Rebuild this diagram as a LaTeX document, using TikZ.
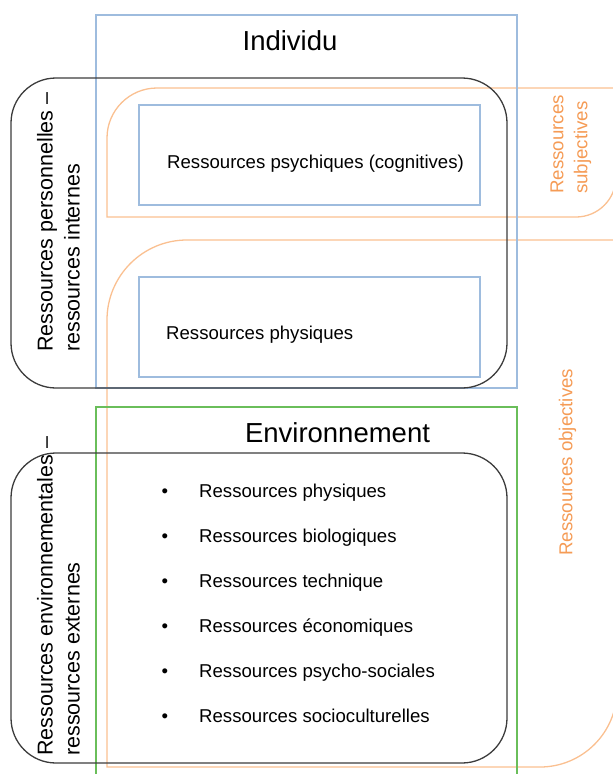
\documentclass[tikz,border=0pt]{standalone}
\usepackage{fontspec}
\setmainfont{Liberation Sans}
\definecolor{boxblue}{RGB}{158,188,222}
\definecolor{boxgreen}{RGB}{106,190,90}
\definecolor{boxgray}{RGB}{60,60,60}
\definecolor{resorange}{RGB}{250,192,145}
\definecolor{textorange}{RGB}{245,155,85}

\begin{document}
\begin{tikzpicture}[x=1pt, y=-1pt,
  bluebox/.style={draw=boxblue, line width=1.3pt},
  greenbox/.style={draw=boxgreen, line width=1.3pt},
  grouping/.style={draw=boxgray, line width=1.3pt, rounded corners=45pt},
  resline/.style={draw=resorange, line width=1.3pt},
  title/.style={font=\fontsize{27.5}{33}\selectfont, anchor=base, inner sep=0pt},
  item/.style={font=\fontsize{18.6}{22}\selectfont, anchor=base west, inner sep=0pt},
  sidelabel/.style={font=\fontsize{21.5}{27}\selectfont, rotate=90, anchor=west, align=left, inner sep=0pt},
  reslabel/.style={font=\fontsize{18.7}{24}\selectfont, text=textorange, rotate=90, anchor=west, align=left, inner sep=0pt}]

  \useasboundingbox (0,0) rectangle (613,774);
  \begin{scope}
    \clip (0,0) rectangle (613,774);
    % subjective and objective resources
    \draw[resline] (107,217) -- (107,138) .. controls (107,110.4) and (129.4,88) .. (157,88)
      -- (616,88) -- (616,177) .. controls (616,199.1) and (598.1,217) .. (576,217) -- cycle;
    \draw[resline] (107,767) -- (107,320) .. controls (107,275.8) and (142.8,240) .. (187,240)
      -- (617,240) -- (617,690) .. controls (617,732.5) and (582.5,767) .. (540,767) -- cycle;
    % individual and environment
    \draw[bluebox] (96,15) rectangle (517,388);
    \draw[greenbox] (96,407) rectangle (517,790);
    \draw[bluebox] (139,105) rectangle (480,205);
    \draw[bluebox] (139,277) rectangle (480,377);
    % internal and external resources
    \draw[grouping] (11,78) rectangle (507,388);
    \draw[grouping] (11,453) rectangle (507,763);
  \end{scope}

  \node[title] (individu) at (290,50) {Individu};
  \node[title] (environnement) at (337.5,442) {Environnement};

  \node[item] (psychiques) at (167,168) {Ressources psychiques (cognitives)};
  \node[item] (physiques) at (166,339) {Ressources physiques};

  \foreach \res [count=\i] in {physiques, biologiques, technique, économiques, psycho-sociales, socioculturelles} {
    \node[item, anchor=base] (bullet\i) at (165,452+45*\i) {\textbullet};
    \node[item] (env\i) at (199,452+45*\i) {Ressources \res};
  }

  \node[sidelabel] (internes) at (58.5,352) {Ressources personnelles –\\ressources internes};
  \node[sidelabel] (externes) at (58.5,756) {Ressources environnementales –\\ressources externes};
  \node[reslabel] (subjectives) at (571,194) {Ressources\\subjectives};
  \node[reslabel] (objectives) at (567.5,556) {Ressources objectives};
\end{tikzpicture}
\end{document}
